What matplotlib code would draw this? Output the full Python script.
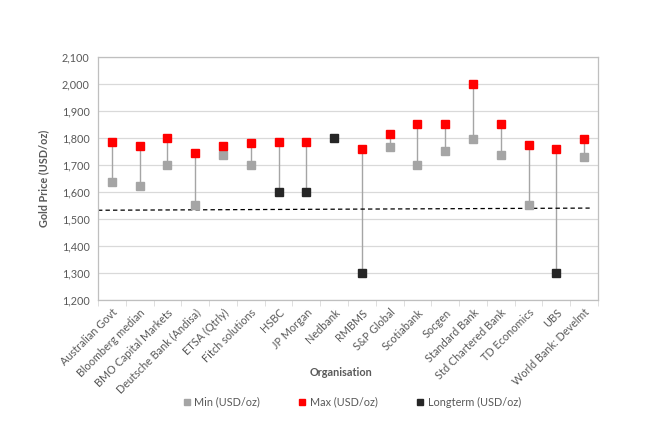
import numpy as np
import matplotlib
matplotlib.use("Agg")
import matplotlib.pyplot as plt

plt.rcParams['font.family'] = ['Lato', 'DejaVu Sans']

categories = ["Australian Govt", "Bloomberg median", "BMO Capital Markets",
              "Deutsche Bank (Andisa)", "ETSA (Qtrly)", "Fitch solutions", "HSBC",
              "JP Morgan", "Nedbank", "RMBMS", "S&P Global", "Scotiabank", "Socgen",
              "Standard Bank", "Std Chartered Bank", "TD Economics", "UBS",
              "World Bank: Develmt"]
min_vals = [1635, 1620, 1700, 1550, 1735, 1700, None, None, None, None,
            1765, 1700, 1750, 1795, 1735, 1550, None, 1730]
max_vals = [1785, 1770, 1800, 1745, 1770, 1780, 1785, 1785, None, 1760,
            1815, 1850, 1850, 2000, 1850, 1775, 1760, 1795]
longterm_vals = [None, None, None, None, None, None, 1600, 1600, 1800, 1300,
                 None, None, None, None, None, None, 1300, None]
trend_x = [-0.5, 17.2]
trend_y = [1532, 1540]
yticks = [1200, 1300, 1400, 1500, 1600, 1700, 1800, 1900, 2000, 2100]

txt = '#595959'
fs = 7.8
fig = plt.figure(figsize=(6.52, 4.33), dpi=100)
ax = fig.add_axes([98/652, 1 - 300/433, 500/652, 243.3/433])

x = np.arange(len(categories))

# high-low lines
for i in range(len(categories)):
    vals = [v for v in (min_vals[i], max_vals[i], longterm_vals[i]) if v is not None]
    if len(vals) >= 2:
        ax.plot([i, i], [min(vals), max(vals)], color='#A5A5A5', lw=1.0, zorder=2)

def series(vals):
    xs = [i for i, v in enumerate(vals) if v is not None]
    ys = [v for v in vals if v is not None]
    return xs, ys

ms = 6.3
xs, ys = series(min_vals)
ax.plot(xs, ys, 's', color='#A5A5A5', ms=ms, ls='none', label='Min (USD/oz)', zorder=3)
xs, ys = series(max_vals)
ax.plot(xs, ys, 's', color='#FF0000', ms=ms, ls='none', label='Max (USD/oz)', zorder=3)
xs, ys = series(longterm_vals)
ax.plot(xs, ys, 's', color='#262626', ms=ms, ls='none', label='Longterm (USD/oz)', zorder=3)

ax.plot(trend_x, trend_y, color='#000000', lw=0.9, ls=(0, (3.5, 2.5)), zorder=2)

ax.set_xlim(-0.5, len(categories) - 0.5)
ax.set_ylim(1200, 2100)
ax.set_yticks(yticks)
ax.set_yticklabels([f"{v:,}" for v in yticks])
ax.yaxis.grid(True, color='#D9D9D9', lw=0.9)
ax.set_axisbelow(True)
ax.tick_params(axis='y', length=0, colors=txt, labelsize=fs, pad=6)

ax.set_xticks(x)
ax.set_xticklabels(categories, rotation=45, ha='right', rotation_mode='anchor')
ax.tick_params(axis='x', length=0, colors=txt, labelsize=fs, pad=5)
ax.set_xticks(np.arange(-0.5, len(categories), 1), minor=True)
ax.tick_params(axis='x', which='minor', length=4, color='#D9D9D9', direction='out')

for s in ax.spines.values():
    s.set_color('#BFBFBF')
    s.set_linewidth(0.9)

ax.set_ylabel('Gold Price (USD/oz)', color=txt, fontsize=fs, fontweight='bold', labelpad=9)
fig.text(341/652, 1 - 373/433, 'Organisation', color=txt, fontsize=fs,
         fontweight='bold', ha='center', va='center')

fig.legend(loc='center', bbox_to_anchor=(352/652, 1 - 402/433), ncol=3, frameon=False,
           fontsize=fs, labelcolor=txt, handlelength=0.6, handletextpad=0.4,
           columnspacing=3.6, markerscale=0.7)

fig.savefig('out.png', dpi=100, facecolor='white')
